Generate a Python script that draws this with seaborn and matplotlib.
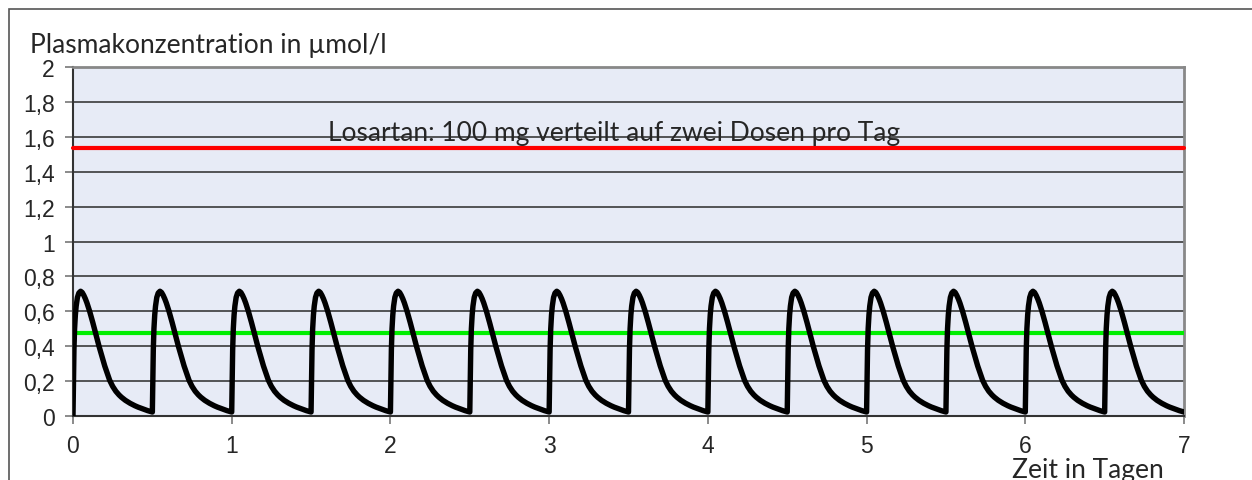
import numpy as np
import pandas as pd
import matplotlib
matplotlib.use("Agg")
import matplotlib.pyplot as plt
from matplotlib.patches import Rectangle
import seaborn as sns

# one dosing interval (offset in days, concentration in umol/l)
profile_t = [0.000, 0.003, 0.006, 0.010, 0.015, 0.020, 0.028, 0.037, 0.048, 0.058,
             0.068, 0.078, 0.088, 0.097, 0.105, 0.115, 0.125, 0.135, 0.143, 0.154,
             0.164, 0.175, 0.187, 0.200, 0.213, 0.231, 0.250, 0.270, 0.290, 0.305,
             0.330, 0.360, 0.390, 0.410, 0.440, 0.470, 0.500]
profile_c = [0.023, 0.20, 0.38, 0.50, 0.58, 0.63, 0.68, 0.705, 0.715, 0.708,
             0.692, 0.672, 0.648, 0.623, 0.600, 0.568, 0.535, 0.500, 0.472, 0.435,
             0.400, 0.365, 0.325, 0.287, 0.252, 0.205, 0.170, 0.142, 0.121, 0.108,
             0.090, 0.073, 0.059, 0.051, 0.041, 0.031, 0.023]
dose_times = [0, 0.5, 1, 1.5, 2, 2.5, 3, 3.5, 4, 4.5, 5, 5.5, 6, 6.5]

red_level = 1.535
green_level = 0.473
yticks = [0, 0.2, 0.4, 0.6, 0.8, 1, 1.2, 1.4, 1.6, 1.8, 2]
ytick_labels = ["0", "0,2", "0,4", "0,6", "0,8", "1", "1,2", "1,4", "1,6", "1,8", "2"]
xticks = [0, 1, 2, 3, 4, 5, 6, 7]

rows = []
for i, d in enumerate(dose_times):
    for t, c in zip(profile_t, profile_c):
        if i == 0 and t == 0:
            c = 0.0
        rows.append((d + t, c))
df = pd.DataFrame(rows, columns=["Zeit", "Konzentration"])

sns.set_style("white")
plt.rcParams['font.family'] = ['Liberation Sans', 'DejaVu Sans']

fig = plt.figure(figsize=(12.52, 4.81), dpi=100)
ax = fig.add_axes([0.0583, 0.133, 0.8874, 0.7256])
ax.set_facecolor("#E7EBF6")

for y in yticks[1:-1]:
    ax.axhline(y, color="#2a2a2a", lw=1.1, zorder=1)

ax.axhline(red_level, color="#FF0000", lw=3.0, zorder=3, clip_on=False)
ax.axhline(green_level, color="#00EE00", lw=3.0, zorder=3)
sns.lineplot(data=df, x="Zeit", y="Konzentration", ax=ax, color="black",
             lw=3.9, sort=False, estimator=None, zorder=4)

ax.set_xlim(0, 7)
ax.set_ylim(0, 2)
ax.set_yticks(yticks)
ax.set_yticklabels(ytick_labels)
ax.set_xticks(xticks)
ax.set_xlabel("")
ax.set_ylabel("")
ax.tick_params(axis="both", which="both", direction="out", length=6,
               width=1.2, color="#777777", labelsize=16.5, left=True, bottom=True)
ax.tick_params(axis="y", pad=7)
ax.tick_params(axis="x", pad=7)

for s in ["top", "right"]:
    ax.spines[s].set_color("#888888")
    ax.spines[s].set_linewidth(2)
for s in ["left", "bottom"]:
    ax.spines[s].set_color("#333333")
    ax.spines[s].set_linewidth(1.5)

ax.text(1.607, 1.58, "Losartan: 100 mg verteilt auf zwei Dosen pro Tag",
        fontsize=19, family=["Lato", "DejaVu Sans"], va="baseline", ha="left")
fig.text(30 / 1252, 1 - 46 / 481, "Plasmakonzentration in µmol/l",
         fontsize=19, family=["Lato", "DejaVu Sans"], va="center", ha="left")
fig.text(1164 / 1252, 3 / 481, "Zeit in Tagen",
         fontsize=19, family=["Lato", "DejaVu Sans"], va="baseline", ha="right")

fig.patches.append(Rectangle((9 / 1252, -0.1), 1.2, 1 - 10 / 481 + 0.1,
                             transform=fig.transFigure, fill=False,
                             edgecolor="#555555", lw=1.2))

fig.savefig("out.png", dpi=100)
